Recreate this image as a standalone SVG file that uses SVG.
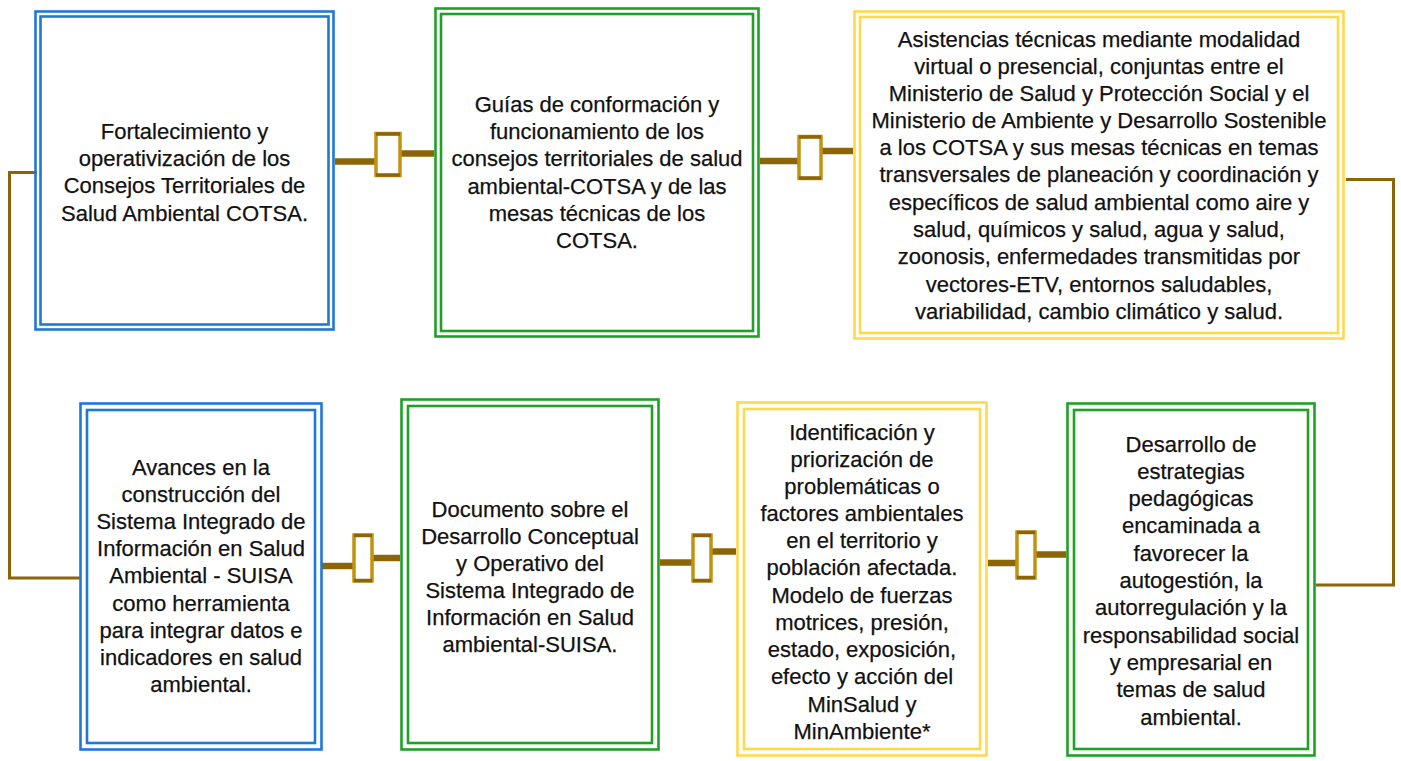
<svg xmlns="http://www.w3.org/2000/svg" width="1401" height="761" viewBox="0 0 1401 761">
<style>
  .o { fill: none; stroke-width: 2.6; }
  .blue { stroke: #1F78D6; }
  .green { stroke: #1FA126; }
  .yellow { stroke: #FFD84C; }
  .t { font-family: "Liberation Sans", Arial, sans-serif; font-size: 22px; fill: #111; stroke: #111; stroke-width: 0.25; text-anchor: middle; }
  .ln { fill: none; stroke: #8B6508; stroke-width: 6.5; }
  .thin { fill: none; stroke: #8B6508; stroke-width: 3; }
  .lk { fill: #fff; stroke: #C2930F; stroke-width: 3.5; }
  .lkd { stroke: #8B6508; stroke-width: 3.5; }
</style>
<rect width="1401" height="761" fill="#fff"/>

<g id="connectors">
  <polyline class="thin" points="37,172.5 9.5,172.5 9.5,578 81,578"/>
  <polyline class="thin" points="1346,179.5 1393.5,179.5 1393.5,585 1316,585"/>
  <g id="c1">
    <line class="ln" x1="335" y1="161.5" x2="376" y2="161.5"/>
    <line class="ln" x1="400" y1="153.5" x2="434" y2="153.5"/>
    <rect class="lk" x="376" y="133.5" width="24" height="42"/>
    <line class="lkd" x1="376" y1="134" x2="400" y2="134"/><line class="lkd" x1="376" y1="175" x2="400" y2="175"/>
  </g>
  <g id="c2">
    <line class="ln" x1="760" y1="161" x2="799" y2="161"/>
    <line class="ln" x1="821" y1="151" x2="853" y2="151"/>
    <rect class="lk" x="799" y="136.5" width="22" height="42"/>
    <line class="lkd" x1="799" y1="137" x2="821" y2="137"/><line class="lkd" x1="799" y1="178" x2="821" y2="178"/>
  </g>
  <g id="c3">
    <line class="ln" x1="322" y1="566" x2="354" y2="566"/>
    <line class="ln" x1="372" y1="558" x2="400" y2="558"/>
    <rect class="lk" x="354" y="535" width="18" height="46"/>
    <line class="lkd" x1="354" y1="535.5" x2="372" y2="535.5"/><line class="lkd" x1="354" y1="580.5" x2="372" y2="580.5"/>
  </g>
  <g id="c4">
    <line class="ln" x1="660" y1="562.5" x2="693" y2="562.5"/>
    <line class="ln" x1="711" y1="551.5" x2="736" y2="551.5"/>
    <rect class="lk" x="693" y="535" width="18" height="46"/>
    <line class="lkd" x1="693" y1="535.5" x2="711" y2="535.5"/><line class="lkd" x1="693" y1="580.5" x2="711" y2="580.5"/>
  </g>
  <g id="c5">
    <line class="ln" x1="988" y1="563" x2="1017" y2="563"/>
    <line class="ln" x1="1035" y1="554.5" x2="1066" y2="554.5"/>
    <rect class="lk" x="1017" y="532" width="18" height="46"/>
    <line class="lkd" x1="1017" y1="532.5" x2="1035" y2="532.5"/><line class="lkd" x1="1017" y1="577.5" x2="1035" y2="577.5"/>
  </g>
</g>

<g id="n1">
  <rect class="o blue" x="35.5" y="11.5" width="298" height="318"/>
  <rect class="o blue" x="40.5" y="16.5" width="288" height="308"/>
  <text class="t" x="184.5" y="138.5">Fortalecimiento y</text>
  <text class="t" x="184.5" y="165.5">operativización de los</text>
  <text class="t" x="184.5" y="193">Consejos Territoriales de</text>
  <text class="t" x="184.5" y="220.5">Salud Ambiental COTSA.</text>
</g>

<g id="n2">
  <rect class="o green" x="435.5" y="8.5" width="323" height="328"/>
  <rect class="o green" x="441" y="14" width="312" height="317"/>
  <text class="t" x="597" y="111.5">Guías de conformación y</text>
  <text class="t" x="597" y="138.5">funcionamiento de los</text>
  <text class="t" x="597" y="166">consejos territoriales de salud</text>
  <text class="t" x="597" y="193.5">ambiental-COTSA y de las</text>
  <text class="t" x="597" y="220.5">mesas técnicas de los</text>
  <text class="t" x="597" y="248">COTSA.</text>
</g>

<g id="n3">
  <rect class="o yellow" x="854.5" y="11.5" width="489" height="327"/>
  <rect class="o yellow" x="860" y="17" width="478" height="316"/>
  <text class="t" x="1099" y="46.5">Asistencias técnicas mediante modalidad</text>
  <text class="t" x="1099" y="73.5">virtual o presencial, conjuntas entre el</text>
  <text class="t" x="1099" y="100.5">Ministerio de Salud y Protección Social y el</text>
  <text class="t" x="1099" y="127.5">Ministerio de Ambiente y Desarrollo Sostenible</text>
  <text class="t" x="1099" y="155">a los COTSA y sus mesas técnicas en temas</text>
  <text class="t" x="1099" y="182">transversales de planeación y coordinación y</text>
  <text class="t" x="1099" y="209.5">específicos de salud ambiental como aire y</text>
  <text class="t" x="1099" y="237">salud, químicos y salud, agua y salud,</text>
  <text class="t" x="1099" y="264">zoonosis, enfermedades transmitidas por</text>
  <text class="t" x="1099" y="291.5">vectores-ETV, entornos saludables,</text>
  <text class="t" x="1099" y="318.5">variabilidad, cambio climático y salud.</text>
</g>

<g id="n4">
  <rect class="o blue" x="80.5" y="403.5" width="241" height="346"/>
  <rect class="o blue" x="87" y="410" width="228" height="333"/>
  <text class="t" x="201" y="474.5">Avances en la</text>
  <text class="t" x="201" y="501.5">construcción del</text>
  <text class="t" x="201" y="528.5">Sistema Integrado de</text>
  <text class="t" x="201" y="556">Información en Salud</text>
  <text class="t" x="201" y="583">Ambiental - SUISA</text>
  <text class="t" x="201" y="610.5">como herramienta</text>
  <text class="t" x="201" y="637.5">para integrar datos e</text>
  <text class="t" x="201" y="665">indicadores en salud</text>
  <text class="t" x="201" y="692">ambiental.</text>
</g>

<g id="n5">
  <rect class="o green" x="401.5" y="399.5" width="257" height="350"/>
  <rect class="o green" x="408" y="406" width="244" height="337"/>
  <text class="t" x="530" y="516.5">Documento sobre el</text>
  <text class="t" x="530" y="543.5">Desarrollo Conceptual</text>
  <text class="t" x="530" y="570.5">y Operativo del</text>
  <text class="t" x="530" y="597.5">Sistema Integrado de</text>
  <text class="t" x="530" y="625">Información en Salud</text>
  <text class="t" x="530" y="652">ambiental-SUISA.</text>
</g>

<g id="n6">
  <rect class="o yellow" x="737.5" y="402.5" width="249" height="353"/>
  <rect class="o yellow" x="744" y="409" width="236" height="340"/>
  <text class="t" x="862" y="439.5">Identificación y</text>
  <text class="t" x="862" y="466.5">priorización de</text>
  <text class="t" x="862" y="493.5">problemáticas o</text>
  <text class="t" x="862" y="521">factores ambientales</text>
  <text class="t" x="862" y="548">en el territorio y</text>
  <text class="t" x="862" y="575">población afectada.</text>
  <text class="t" x="862" y="602.5">Modelo de fuerzas</text>
  <text class="t" x="862" y="630">motrices, presión,</text>
  <text class="t" x="862" y="657">estado, exposición,</text>
  <text class="t" x="862" y="684">efecto y acción del</text>
  <text class="t" x="862" y="711.5">MinSalud y</text>
  <text class="t" x="862" y="738.5">MinAmbiente*</text>
</g>

<g id="n7">
  <rect class="o green" x="1067.5" y="403.5" width="247" height="352"/>
  <rect class="o green" x="1074" y="410" width="234" height="339"/>
  <text class="t" x="1191" y="451.5">Desarrollo de</text>
  <text class="t" x="1191" y="478.5">estrategias</text>
  <text class="t" x="1191" y="506">pedagógicas</text>
  <text class="t" x="1191" y="533">encaminada a</text>
  <text class="t" x="1191" y="560.5">favorecer la</text>
  <text class="t" x="1191" y="588">autogestión, la</text>
  <text class="t" x="1191" y="615">autorregulación y la</text>
  <text class="t" x="1191" y="642.5">responsabilidad social</text>
  <text class="t" x="1191" y="670">y empresarial en</text>
  <text class="t" x="1191" y="697">temas de salud</text>
  <text class="t" x="1191" y="724.5">ambiental.</text>
</g>
</svg>
